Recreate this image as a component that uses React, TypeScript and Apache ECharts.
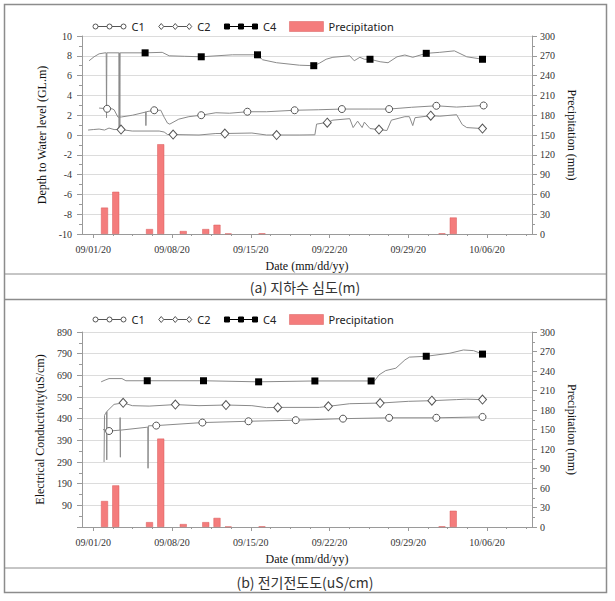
import React, { useEffect, useRef } from 'react';
import * as echarts from 'echarts';

// ---- x axis (days after 09/01/20) ----
const X_MIN = -1;
const X_MAX = 39;
const TICK_DAYS = [0, 7, 14, 21, 28, 35];
const TICK_LABELS = ['09/01/20', '09/08/20', '09/15/20', '09/22/20', '09/29/20', '10/06/20'];
const MINOR_DAYS = [1.75, 3.5, 5.25, 8.75, 10.5, 12.25, 15.75, 17.5, 19.25, 22.75, 24.5, 26.25, 29.75, 31.5, 33.25, 36.75, 38.5];

// ---- precipitation (mm), same in both panels ----
const PRECIP_DAYS = [1, 2, 5, 6, 8, 10, 11, 12, 15, 31, 32];
const PRECIP_MM = [40, 64, 7.5, 136, 4.5, 7.5, 14, 0.8, 1, 1, 25];

// ---- panel (a): depth to water level (GL.m) ----
const C1A_LINE = [[0.52, 2.72], [1.67, 2.65], [1.85, 2.55], [2.2, 1.8], [2.5, 1.82], [3.5, 2.0], [4.6, 2.3], [4.65, 2.35], [4.68, 0.95], [4.71, 2.35], [6.0, 2.5], [6.3, 1.8], [6.6, 1.2], [6.8, 1.1], [7.6, 1.6], [8.5, 1.85], [10.9, 2.25], [12.1, 2.2], [15.4, 2.35], [20.0, 2.55], [24.5, 2.62], [28.3, 2.8], [32.3, 2.82], [33.2, 2.88]];
const C1A_MARKERS = [[1.23, 2.65], [5.42, 2.5], [9.6, 2.0], [13.7, 2.35], [17.9, 2.5], [22.1, 2.62], [26.3, 2.62], [30.5, 2.95], [34.7, 2.98]];
const C2A_LINE = [[-0.46, 0.5], [0.0, 0.55], [0.52, 0.6], [1.0, 0.5], [1.4, 0.7], [1.85, 0.55], [3.46, 0.4], [5.86, 0.4], [6.3, 0.3], [6.6, 0.05], [9.4, 0.0], [10.9, 0.15], [14.1, 0.2], [15.4, 0.0], [18.3, 0.0], [19.7, 0.02], [19.85, 1.1], [20.4, 1.2], [21.3, 1.5], [22.8, 1.65], [23.1, 0.75], [23.5, 1.4], [23.9, 0.75], [24.1, 1.3], [24.6, 0.65], [26.1, 0.45], [26.5, 1.5], [27.7, 1.85], [28.1, 1.85], [28.4, 0.95], [28.6, 1.75], [30.8, 1.9], [32.3, 2.05], [32.8, 1.05], [33.2, 0.75]];
const C2A_MARKERS = [[2.47, 0.55], [7.1, 0.05], [11.7, 0.15], [16.3, 0.0], [20.8, 1.25], [25.4, 0.55], [30.0, 1.95], [34.6, 0.65]];
const C4A_LINE = [[-0.37, 7.5], [0.07, 7.9], [0.52, 8.2], [1.05, 8.3], [1.15, 8.3], [1.18, 1.75], [1.21, 8.3], [2.28, 8.3], [2.3, 0.7], [2.33, 8.3], [2.36, 0.7], [2.39, 8.3], [6.13, 8.35], [6.75, 8.0], [8.09, 7.95], [12.37, 8.1], [15.05, 7.6], [16.3, 7.3], [18.34, 7.05], [20.1, 7.25], [20.7, 7.65], [21.3, 7.85], [22.8, 8.0], [23.2, 7.5], [23.7, 7.85], [24.1, 7.65], [25.5, 7.4], [26.2, 7.3], [27.0, 7.9], [27.7, 8.08], [28.4, 7.85], [30.8, 8.35], [32.1, 8.5], [33.2, 7.9]];
const C4A_MARKERS = [[4.61, 8.3], [9.6, 7.9], [14.6, 8.1], [19.6, 7.0], [24.6, 7.65], [29.6, 8.25], [34.6, 7.65]];

// ---- panel (b): electrical conductivity (uS/cm) ----
const C1B_LINE = [[0.87, 440], [2.38, 437], [2.39, 495], [2.41, 312], [2.42, 437], [4.7, 450], [4.85, 451], [4.87, 261], [4.9, 457]];
const C1B_MARKERS = [[1.41, 433], [5.6, 458], [9.7, 472], [13.8, 478], [18.0, 483], [22.2, 490], [26.3, 494], [30.5, 494], [34.6, 498]];
const C2B_LINE = [[0.96, 290], [1.0, 505], [1.1, 515], [1.19, 522], [1.2, 300], [1.22, 524], [1.85, 556], [3.47, 550], [4.97, 548], [9.4, 550], [14.1, 550], [15.4, 541], [20.1, 542], [22.8, 559], [28.0, 570], [32.3, 578], [33.2, 580]];
const C2B_MARKERS = [[2.66, 563], [7.3, 555], [11.8, 553], [16.4, 542], [20.9, 547], [25.5, 562], [30.1, 573], [34.6, 578]];
const C4B_LINE = [[0.7, 660], [1.05, 668], [1.4, 675], [2.55, 675], [2.9, 665], [25.0, 664], [25.4, 692], [26.0, 712], [26.9, 723], [27.7, 761], [28.1, 774], [31.7, 792], [32.9, 807], [33.8, 804]];
const C4B_MARKERS = [[4.8, 665], [9.8, 665], [14.7, 660], [19.7, 664], [24.7, 664], [29.6, 778], [34.6, 788]];

// ---- texts ----
const LEGEND_NAMES = ['C1', 'C2', 'C4', 'Precipitation'];
const X_TITLE = 'Date (mm/dd/yy)';
const Y_TITLE_A = 'Depth to Water level (GL.m)';
const Y_TITLE_B = 'Electrical Conductivity(uS/cm)';
const Y2_TITLE = 'Precipitation (mm)';
const CAPTION_A = '(a) 지하수 심도(m)';
const CAPTION_B = '(b) 전기전도도(uS/cm)';

const SERIF = 'Liberation Serif';
const SANS = 'Noto Sans';
const AXIS_GRAY = '#9a9a9a';
const LINE_GRAY = '#8a8a8a';
const BAR_FILL = '#f47c7c';
const BAR_EDGE = '#d95b5b';

// legend icons: three markers joined by a line (34 x 10 box)
const LINK = 'M5.5 5 L14.5 5 M19.5 5 L28.5 5';
const ICON_C1 = 'path://M0 0 M34 10 M0.5 5 A2.5 2.5 0 1 1 5.5 5 A2.5 2.5 0 1 1 0.5 5 Z M14.5 5 A2.5 2.5 0 1 1 19.5 5 A2.5 2.5 0 1 1 14.5 5 Z M28.5 5 A2.5 2.5 0 1 1 33.5 5 A2.5 2.5 0 1 1 28.5 5 Z ' + LINK;
const ICON_C2 = 'path://M0 0 M34 10 M3 2 L5.5 5 L3 8 L0.5 5 Z M17 2 L19.5 5 L17 8 L14.5 5 Z M31 2 L33.5 5 L31 8 L28.5 5 Z ' + LINK;
const ICON_C4 = 'path://M0 0 M34 10 M0.5 2.5 L5.5 2.5 L5.5 7.5 L0.5 7.5 Z M14.5 2.5 L19.5 2.5 L19.5 7.5 L14.5 7.5 Z M28.5 2.5 L33.5 2.5 L33.5 7.5 L28.5 7.5 Z ' + LINK;

function lineData(line: number[][], markers: number[][]) {
  const items = [
    ...line.map((p) => ({ value: p, symbol: 'none' })),
    ...markers.map((p) => ({ value: p })),
  ];
  items.sort((a, b) => a.value[0] - b.value[0]);
  return items;
}

const SERIES_STYLE: Record<string, any> = {
  C1: { symbol: 'circle', symbolSize: 7, itemStyle: { color: '#fff', borderColor: '#555', borderWidth: 1 } },
  C2: { symbol: 'diamond', symbolSize: [8, 9], itemStyle: { color: '#fff', borderColor: '#555', borderWidth: 1 } },
  C4: { symbol: 'rect', symbolSize: 7, itemStyle: { color: '#000', borderColor: '#000', borderWidth: 0 } },
};

function lineSeries(name: string, line: number[][], markers: number[][], xi: number, yi: number) {
  return {
    type: 'line',
    name,
    xAxisIndex: xi,
    yAxisIndex: yi,
    data: lineData(line, markers),
    showSymbol: true,
    showAllSymbol: true,
    lineStyle: { color: LINE_GRAY, width: 1 },
    emphasis: { disabled: true },
    z: 3,
    ...SERIES_STYLE[name],
  };
}

function barSeries(xi: number, yi: number) {
  return {
    type: 'bar',
    name: 'Precipitation',
    xAxisIndex: xi,
    yAxisIndex: yi,
    barWidth: 7,
    data: PRECIP_DAYS.map((d, i) => [d, PRECIP_MM[i]]),
    itemStyle: { color: BAR_FILL, borderColor: BAR_EDGE, borderWidth: 0.5 },
    emphasis: { disabled: true },
    z: 2,
  };
}

function fmtDay(v: number) {
  const i = TICK_DAYS.indexOf(Math.round(v));
  return i >= 0 ? TICK_LABELS[i] : '';
}

function xAxes(gridIndex: number) {
  return [
    {
      type: 'value',
      gridIndex,
      min: X_MIN,
      max: X_MAX,
      position: 'bottom',
      name: X_TITLE,
      nameLocation: 'middle',
      nameGap: 26,
      nameTextStyle: { fontFamily: SERIF, fontSize: 12, color: '#111' },
      axisLine: { show: true, onZero: false, lineStyle: { color: AXIS_GRAY } },
      axisTick: { show: true, customValues: TICK_DAYS, length: 4, lineStyle: { color: AXIS_GRAY } },
      axisLabel: { customValues: TICK_DAYS, formatter: fmtDay, margin: 10, fontFamily: SERIF, fontSize: 10, color: '#333' },
      splitLine: { show: false },
    },
    {
      type: 'value',
      gridIndex,
      min: X_MIN,
      max: X_MAX,
      position: 'bottom',
      axisLine: { show: false, onZero: false },
      axisTick: { show: true, customValues: MINOR_DAYS, length: 2, lineStyle: { color: AXIS_GRAY } },
      axisLabel: { show: false },
      splitLine: { show: false },
    },
  ];
}

function yLeft(gridIndex: number, min: number, max: number, interval: number, name: string, hideMin: boolean) {
  return {
    type: 'value',
    gridIndex,
    min,
    max,
    interval,
    position: 'left',
    name,
    nameLocation: 'middle',
    nameGap: 34,
    nameRotate: 90,
    nameTextStyle: { fontFamily: SERIF, fontSize: 12, color: '#111' },
    axisLine: { show: true, onZero: false, lineStyle: { color: AXIS_GRAY } },
    axisTick: { show: true, length: 5, lineStyle: { color: AXIS_GRAY } },
    minorTick: { show: true, splitNumber: 2, length: 3, lineStyle: { color: AXIS_GRAY } },
    axisLabel: {
      margin: 10,
      fontFamily: SERIF,
      fontSize: 10,
      color: '#333',
      formatter: (v: number) => (hideMin && v === min ? '' : String(v)),
    },
    splitLine: { show: true, lineStyle: { color: '#dcdcdc', width: 1 } },
  };
}

function yRight(gridIndex: number) {
  return {
    type: 'value',
    gridIndex,
    min: 0,
    max: 300,
    interval: 30,
    position: 'right',
    name: Y2_TITLE,
    nameLocation: 'middle',
    nameGap: 26,
    nameRotate: -90,
    nameTextStyle: { fontFamily: SERIF, fontSize: 12, color: '#111' },
    axisLine: { show: true, onZero: false, lineStyle: { color: AXIS_GRAY } },
    axisTick: { show: true, length: 5, lineStyle: { color: AXIS_GRAY } },
    minorTick: { show: true, splitNumber: 2, length: 3, lineStyle: { color: AXIS_GRAY } },
    axisLabel: { margin: 8, fontFamily: SERIF, fontSize: 10, color: '#333' },
    splitLine: { show: false },
  };
}

const LEGEND_ICON: Record<string, any> = {
  C1: { icon: ICON_C1, itemStyle: { color: '#fff', borderColor: '#555', borderWidth: 1 } },
  C2: { icon: ICON_C2, itemStyle: { color: '#fff', borderColor: '#555', borderWidth: 1 } },
  C4: { icon: ICON_C4, itemStyle: { color: '#000', borderColor: '#000', borderWidth: 1 } },
  Precipitation: { icon: 'rect', itemStyle: { color: BAR_FILL, borderColor: BAR_EDGE, borderWidth: 0.5 } },
};

function legend(top: number) {
  return {
    left: 87,
    top,
    itemWidth: 34,
    itemHeight: 10,
    itemGap: 13,
    selectedMode: false,
    textStyle: { fontFamily: SANS, fontSize: 11, color: '#222' },
    data: LEGEND_NAMES.map((n) => ({ name: n, ...LEGEND_ICON[n] })),
  };
}

const FRAME = '#8c8c8c';

export default function App() {
  const ref = useRef<HTMLDivElement>(null);
  useEffect(() => {
    if (!ref.current) return;
    const chart = echarts.init(ref.current, undefined, { renderer: 'svg' });
    chart.setOption({
      animation: false,
      backgroundColor: '#fff',
      legend: [legend(16), legend(309)],
      grid: [
        { left: 82, right: 83, top: 36, height: 198 },
        { left: 82, right: 83, top: 332, height: 195 },
      ],
      xAxis: [...xAxes(0), ...xAxes(1)],
      yAxis: [
        yLeft(0, -10, 10, 2, Y_TITLE_A, false),
        yRight(0),
        yLeft(1, -10, 890, 100, Y_TITLE_B, true),
        yRight(1),
      ],
      series: [
        barSeries(0, 1),
        lineSeries('C1', C1A_LINE, C1A_MARKERS, 0, 0),
        lineSeries('C2', C2A_LINE, C2A_MARKERS, 0, 0),
        lineSeries('C4', C4A_LINE, C4A_MARKERS, 0, 0),
        barSeries(2, 3),
        lineSeries('C1', C1B_LINE, C1B_MARKERS, 2, 2),
        lineSeries('C2', C2B_LINE, C2B_MARKERS, 2, 2),
        lineSeries('C4', C4B_LINE, C4B_MARKERS, 2, 2),
      ],
      graphic: [
        { type: 'rect', silent: true, shape: { x: 4.5, y: 4.5, width: 602, height: 588 }, style: { fill: 'none', stroke: FRAME, lineWidth: 1.5 } },
        { type: 'line', silent: true, shape: { x1: 4.5, y1: 274, x2: 606.5, y2: 274 }, style: { stroke: FRAME, lineWidth: 1 } },
        { type: 'line', silent: true, shape: { x1: 4.5, y1: 299.5, x2: 606.5, y2: 299.5 }, style: { stroke: FRAME, lineWidth: 1.5 } },
        { type: 'line', silent: true, shape: { x1: 4.5, y1: 568, x2: 606.5, y2: 568 }, style: { stroke: FRAME, lineWidth: 1 } },
        { type: 'text', silent: true, x: 305, y: 287, style: { text: CAPTION_A, fontFamily: 'Noto Sans CJK KR', fontSize: 14, fill: '#333', align: 'center', verticalAlign: 'middle' } },
        { type: 'text', silent: true, x: 305, y: 582, style: { text: CAPTION_B, fontFamily: 'Noto Sans CJK KR', fontSize: 14, fill: '#333', align: 'center', verticalAlign: 'middle' } },
      ],
    });
    return () => chart.dispose();
  }, []);
  return (
    <div
      ref={ref}
      style={{ position: 'absolute', left: 0, top: 0, width: 615, height: 601, background: '#fff' }}
    />
  );
}
